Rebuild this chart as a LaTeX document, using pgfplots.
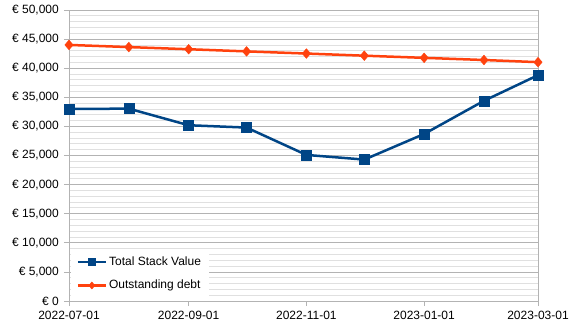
\documentclass[border=0pt]{standalone}
\usepackage{fontspec}
\setmainfont{Liberation Sans}
\usepackage{pgfplots}
\pgfplotsset{compat=1.18}
\definecolor{lblue}{HTML}{004586}
\definecolor{lorange}{HTML}{FF420E}
\definecolor{gmaj}{HTML}{B3B3B3}
\definecolor{gmin}{HTML}{E0E0E0}
\begin{document}
\fontsize{12pt}{14pt}\selectfont
\begin{tikzpicture}
\useasboundingbox (-69pt,-32pt) rectangle (508pt,301pt);
\begin{axis}[
  at={(0,0)}, anchor=south west,
  scale only axis, width=469pt, height=291pt,
  xmin=0, xmax=243, ymin=0, ymax=50000,
  xtick={0,62,123,184,243},
  xticklabels={2022-07-01,2022-09-01,2022-11-01,2023-01-01,2023-03-01},
  ytick={0,5000,...,50000},
  minor y tick num=4,
  ymajorgrids, yminorgrids,
  major grid style={gmaj, line width=0.8pt},
  minor grid style={gmin, line width=0.8pt},
  axis line style={gmaj, line width=0.8pt},
  tick style={gmaj, line width=0.8pt},
  major tick length=5pt, minor tick length=0pt,
  tick align=outside, tick pos=left,
  scaled y ticks=false,
  /pgf/number format/assume math mode=true,
  /pgf/number format/.cd, 1000 sep={,}, /pgfplots/.cd,
  yticklabel={€ \pgfmathprintnumber{\tick}},
  ticklabel style={font=\fontsize{12pt}{14pt}\selectfont},
  xticklabel style={yshift=-1pt},
  yticklabel style={xshift=-1pt},
  legend style={at={(rel axis cs:0.003,0.014)}, anchor=south west, draw=none, fill=white,
    font=\fontsize{12pt}{14pt}\selectfont, inner xsep=6pt, inner ysep=4pt,
    row sep=9pt},
  legend cell align=left,
  legend image code/.code={
    \draw[#1, mark size=3.5pt] (0pt,0pt) -- (28pt,0pt);
    \draw[#1, mark size=3.5pt] plot coordinates {(14pt,0pt)};
  },
]
\addplot[color=lblue, line width=2.5pt, mark=square*, mark size=5pt, mark options={line width=0.5pt}]
  coordinates {(0,33000) (31,33050) (62,30200) (92,29800) (123,25100) (153,24300) (184,28700) (215,34400) (243,38800)};
\addlegendentry{Total Stack Value}
\addplot[color=lorange, line width=2.5pt, mark=diamond*, mark size=4.8pt, mark options={line width=0.5pt, xscale=1.15}]
  coordinates {(0,44000) (31,43630) (62,43260) (92,42890) (123,42520) (153,42150) (184,41780) (215,41410) (243,41040)};
\addlegendentry{Outstanding debt}
\end{axis}
\end{tikzpicture}
\end{document}
